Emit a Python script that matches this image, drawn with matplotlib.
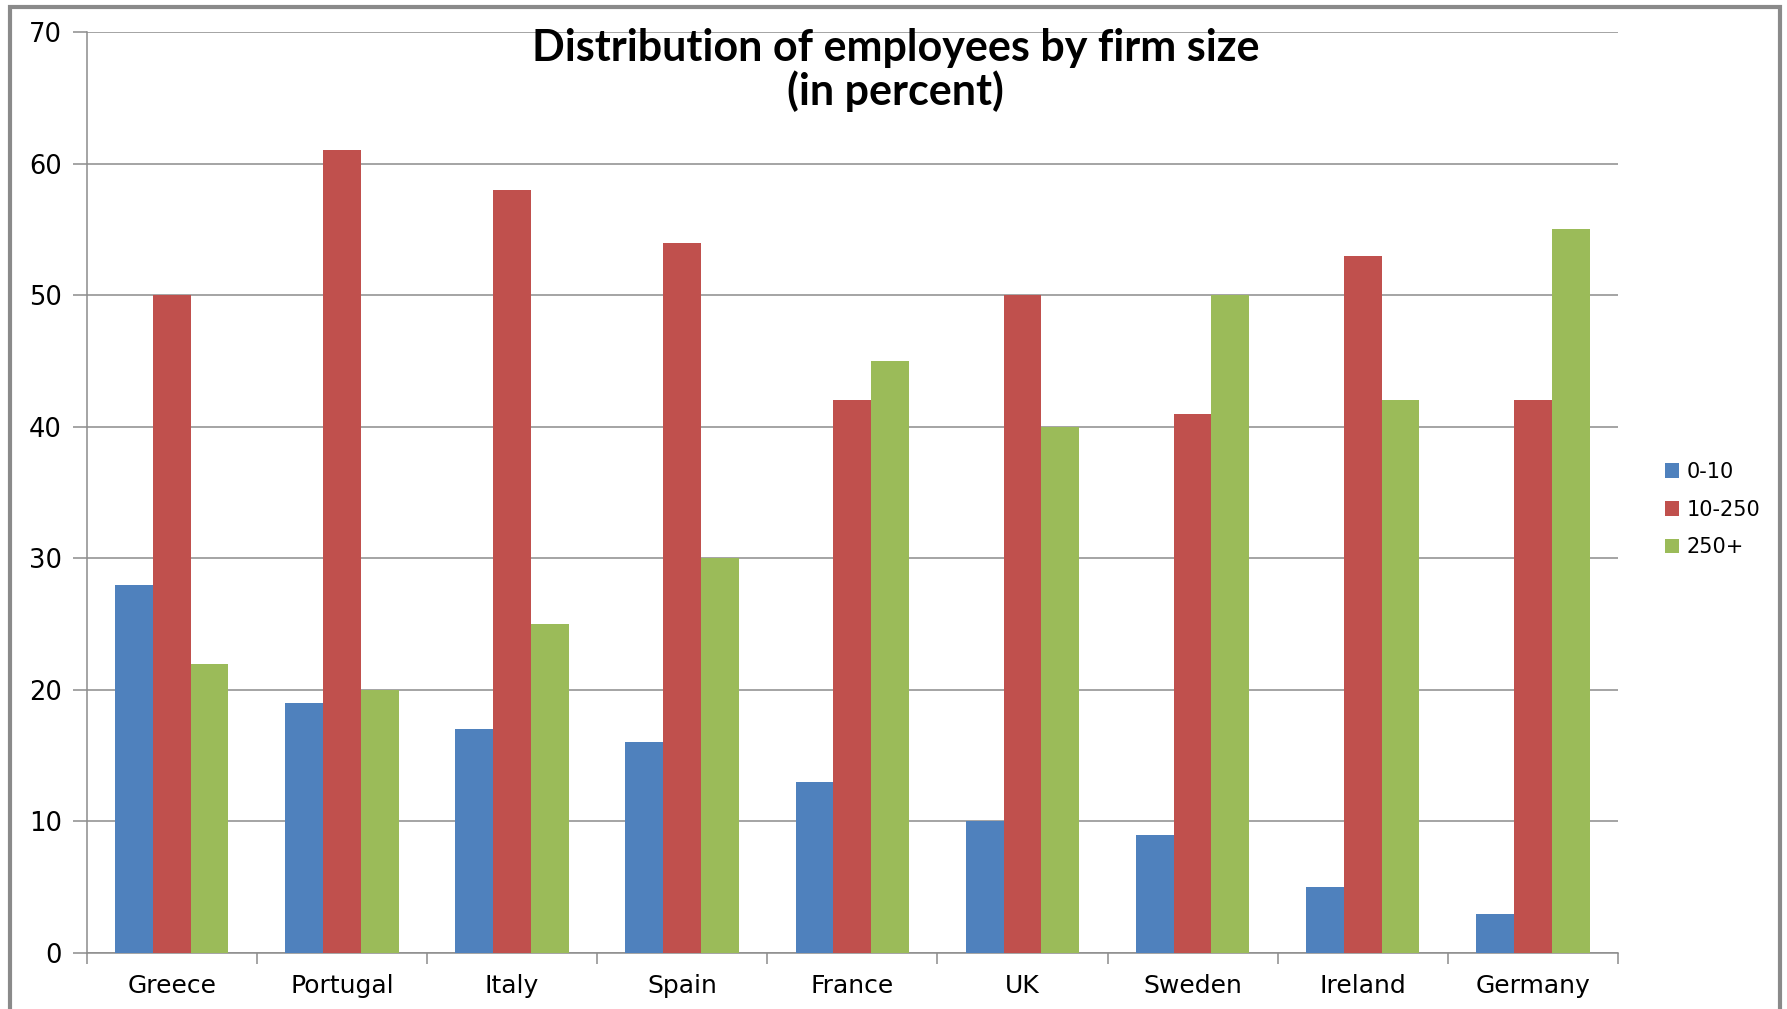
import numpy as np
import matplotlib
matplotlib.use("Agg")
import matplotlib.pyplot as plt
from matplotlib.patches import Rectangle

countries = ["Greece", "Portugal", "Italy", "Spain", "France", "UK", "Sweden", "Ireland", "Germany"]
small = [28, 19, 17, 16, 13, 10, 9, 5, 3]
medium = [50, 61, 58, 54, 42, 50, 41, 53, 42]
large = [22, 20, 25, 30, 45, 40, 50, 42, 55]
series_names = ["0-10", "10-250", "250+"]
colors = ["#4F81BD", "#C0504D", "#9BBB59"]

fig = plt.figure(figsize=(17.87, 10.09), dpi=100)
ax = fig.add_axes([0.0485, 0.0555, 0.8569, 0.9128])

x = np.arange(len(countries))
w = 1 / 4.5
for i, (vals, name, col) in enumerate(zip([small, medium, large], series_names, colors)):
    ax.bar(x + (i - 1) * w, vals, width=w, color=col, label=name, zorder=3)

ax.set_xlim(-0.5, len(countries) - 0.5)
ax.set_ylim(0, 70)
ax.set_yticks(range(0, 71, 10))
ax.yaxis.grid(True, color="#8c8c8c", linewidth=1.1, zorder=0)
ax.set_xticks(x)
ax.set_xticklabels(countries)
ax.set_xticks(np.arange(-0.5, len(countries)), minor=True)
ax.tick_params(axis="x", which="major", length=0, pad=15, labelsize=18)
ax.tick_params(axis="x", which="minor", length=8, color="#8c8c8c", width=1.1)
ax.tick_params(axis="y", length=10, color="#8c8c8c", width=1.1, pad=8, labelsize=18.5)
for s in ["top", "right"]:
    ax.spines[s].set_visible(False)
for s in ["left", "bottom"]:
    ax.spines[s].set_color("#8c8c8c")
    ax.spines[s].set_linewidth(1.1)

fig.text(0.501, 0.931, "Distribution of employees by firm size\n(in percent)",
         ha="center", va="center", fontsize=31, fontweight="bold", family="Lato",
         linespacing=1.07)

fig.legend(loc="center left", bbox_to_anchor=(0.921, 0.495), frameon=False,
           fontsize=15, handlelength=0.7, handleheight=0.7, handletextpad=0.35,
           labelspacing=0.85)

# outer chart border
fig.patches.append(Rectangle((0.0055, -0.05), 0.9905, 1.043, transform=fig.transFigure,
                             fill=False, edgecolor="#8a8a8a", linewidth=3))

fig.savefig("out.png", dpi=100)
